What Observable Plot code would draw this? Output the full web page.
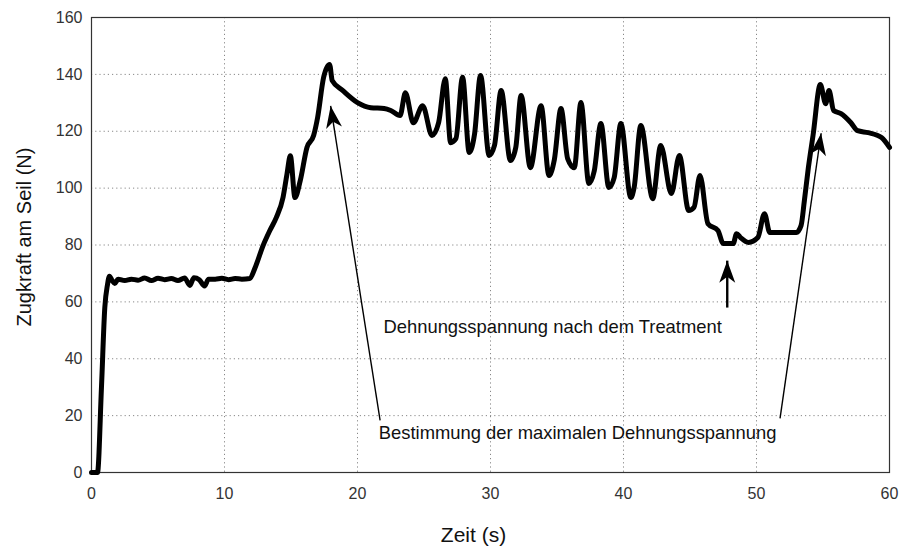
<!DOCTYPE html>
<html>
<head>
<meta charset="utf-8">
<script src="https://cdn.jsdelivr.net/npm/d3@7"></script>
<script src="https://cdn.jsdelivr.net/npm/@observablehq/plot@0.6"></script>
<style>
  html, body { margin: 0; padding: 0; background: #fff; }
  svg { font-family: "Liberation Sans", Arial, sans-serif; }
</style>
</head>
<body>
<div id="chart"></div>
<script>
// Time (s)
const time = [0,0.45,0.75,1.0,1.2,1.35,1.55,1.75,2.0,2.5,3.0,3.5,4.0,4.5,5.0,5.5,6.0,6.5,7.0,7.4,7.7,8.1,8.5,8.8,9.3,9.8,10.3,10.8,11.3,11.9,
  12.3,12.9,13.4,13.9,14.4,14.7,14.95,15.3,15.7,16.2,16.7,17.0,17.45,17.9,18.1,18.9,20.0,21.0,22.0,22.5,23.2,23.6,24.2,24.9,25.6,26.1,26.6,27.0,27.4,27.9,
  28.4,28.8,29.25,29.9,30.3,30.8,31.5,31.9,32.3,33.0,33.8,34.4,34.8,35.3,35.8,36.3,36.8,37.4,37.8,38.3,38.9,39.3,39.8,40.55,40.8,41.3,42.2,42.8,43.6,44.2,
  44.9,45.3,45.75,46.35,47.1,47.5,48.25,48.5,48.8,49.4,50.1,50.6,51.0,52.1,53.0,53.35,53.6,53.9,54.25,54.8,55.2,55.45,55.8,56.35,57.1,57.6,58.4,59.4,60.0];
// Zugkraft (N)
const force = [0,0,30,58,66,69,67.5,66.5,68,67.5,68,67.6,68.4,67.5,68.3,67.8,68.2,67.5,68.4,65.8,68.5,67.8,65.6,68,68,68.3,67.8,68.2,68,68.2,
  72,79.8,85,89.7,96.7,105,111.4,96.7,102.7,114.3,118.5,124.8,138.9,143.5,137.8,134.3,130.1,128.3,128,127.3,125.5,133.5,123,129,118.5,123,138.5,116,117.4,139,
  112.5,119,139.6,111.5,115,134.3,109.7,114.3,132.6,107.2,129,104.4,110,128,110.4,107.2,130.1,101.6,106,122.7,100.2,103.7,122.7,96.7,100.2,122,96.3,115,98.1,111.5,
  92.1,93.2,104.4,87.5,85.1,80.5,80.5,84,82.6,80.9,82.6,91,84.4,84.4,84.4,86.8,95.6,107.2,118.5,136.4,129.7,134.3,127.3,126.2,123,120.2,119.5,117.8,114.3];

const xTicks = [0,10,20,30,40,50,60];
const yTicks = [0,20,40,60,80,100,120,140,160];

// Annotation arrows (from -> to, data units)
const arrowX1 = [21.7, 51.77, 47.8];
const arrowY1 = [18.3, 19.0, 58];
const arrowX2 = [17.98, 54.86, 47.8];
const arrowY2 = [128.9, 119.3, 74.5];
const arrowWidth = [1.4, 1.4, 2.4];

// Annotation labels
const labelText = ["Dehnungsspannung nach dem Treatment", "Bestimmung der maximalen Dehnungsspannung"];
const labelX = [21.95, 21.6];
const labelY = [51, 13.7];

const series = time.map((t, i) => ({t, N: force[i]}));
const arrows = arrowX1.map((x1, i) => ({x1, y1: arrowY1[i], x2: arrowX2[i], y2: arrowY2[i], w: arrowWidth[i]}));
const labels = labelText.map((text, i) => ({text, x: labelX[i], y: labelY[i]}));

const plot = Plot.plot({
  width: 909,
  height: 550,
  marginLeft: 91,
  marginRight: 20,
  marginTop: 17,
  marginBottom: 78,
  style: {fontFamily: "'Liberation Sans', Arial, sans-serif", background: "#fff", color: "#111"},
  x: {domain: [0, 60]},
  y: {domain: [0, 160]},
  marks: [
    Plot.gridX(xTicks.slice(1, -1), {stroke: "#888", strokeOpacity: 1, strokeDasharray: "1.2,3"}),
    Plot.gridY(yTicks.slice(1, -1), {stroke: "#888", strokeOpacity: 1, strokeDasharray: "1.2,3"}),
    Plot.frame({stroke: "#333", strokeWidth: 1.2}),
    Plot.axisX(xTicks, {tickSize: 0, tickPadding: 15, fontSize: 16, label: null, fill: "#333"}),
    Plot.axisY(yTicks, {tickSize: 0, tickPadding: 9, fontSize: 16, label: null, fill: "#333"}),
    Plot.text(["Zeit (s)"], {frameAnchor: "bottom", textAnchor: "middle", lineAnchor: "middle", dx: -17, dy: 63, fontSize: 21, fill: "#111"}),
    Plot.text(["Zugkraft am Seil (N)"], {frameAnchor: "left", textAnchor: "middle", lineAnchor: "middle", rotate: -90, dx: -67, dy: -8, fontSize: 20, fill: "#111"}),
    Plot.line(series, {x: "t", y: "N", stroke: "#000", strokeWidth: 5, curve: "monotone-x", strokeLinejoin: "round", strokeLinecap: "round"}),
    Plot.link(arrows, {x1: "x1", y1: "y1", x2: "x2", y2: "y2", stroke: "#000", strokeWidth: "w"}),
    Plot.text(labels, {x: "x", y: "y", text: "text", textAnchor: "start", fontSize: 18.4, fill: "#111"})
  ]
});

// filled arrowheads at link ends
const svg = d3.select(plot);
const defs = svg.insert("defs", ":first-child");
defs.append("marker")
  .attr("id", "ahead")
  .attr("viewBox", "-26 -10 28 20")
  .attr("markerUnits", "userSpaceOnUse")
  .attr("markerWidth", 28)
  .attr("markerHeight", 20)
  .attr("refX", 0)
  .attr("refY", 0)
  .attr("orient", "auto")
  .append("path")
  .attr("d", "M0,0L-22,-8L-16,0L-22,8Z")
  .attr("fill", "#000");
svg.selectAll('g[aria-label="link"] path').attr("marker-end", "url(#ahead)");

document.getElementById("chart").appendChild(plot);
</script>
</body>
</html>
